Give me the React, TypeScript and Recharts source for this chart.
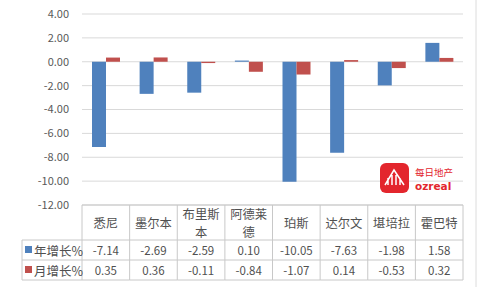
import React from 'react';
import { BarChart, Bar, XAxis, YAxis, CartesianGrid } from 'recharts';

const categories = ['悉尼', '墨尔本', '布里斯本', '阿德莱德', '珀斯', '达尔文', '堪培拉', '霍巴特'];
const categoryLines = [['悉尼'], ['墨尔本'], ['布里斯', '本'], ['阿德莱', '德'], ['珀斯'], ['达尔文'], ['堪培拉'], ['霍巴特']];
const yearly = [-7.14, -2.69, -2.59, 0.1, -10.05, -7.63, -1.98, 1.58];
const monthly = [0.35, 0.36, -0.11, -0.84, -1.07, 0.14, -0.53, 0.32];
const seriesNames = ['年增长%', '月增长%'];
const yTicks = [-12, -10, -8, -6, -4, -2, 0, 2, 4];

const data = categories.map((c, i) => ({ name: c, yearly: yearly[i], monthly: monthly[i] }));

const BLUE = '#4F81BD';
const RED = '#C0504D';
const BORDER = '#c8c8c8';
const TEXT = '#505050';
const FONT = '"Noto Sans CJK SC", "Noto Sans", sans-serif';

const W = 480;
const H = 287;
const PLOT_LEFT = 82;
const PLOT_RIGHT = 463;
const PLOT_TOP = 14;
const PLOT_BOTTOM = 205;
const BAND = (PLOT_RIGHT - PLOT_LEFT) / categories.length;
const ROW0 = PLOT_BOTTOM;
const ROW1 = 240;
const ROW2 = 260;
const ROW3 = 280;
const LEGEND_LEFT = 22;

const TableTick = (props: any) => {
  const { x, index } = props;
  const left = x - BAND / 2;
  const right = x + BAND / 2;
  const lines = categoryLines[index] || [];
  const fmt = (v: number) => v.toFixed(2);
  return (
    <g>
      <line x1={left} x2={left} y1={ROW0} y2={ROW3} stroke={BORDER} strokeWidth={1} />
      {index === categories.length - 1 && (
        <line x1={right} x2={right} y1={ROW0} y2={ROW3} stroke={BORDER} strokeWidth={1} />
      )}
      <line x1={left} x2={right} y1={ROW1} y2={ROW1} stroke={BORDER} strokeWidth={1} />
      <line x1={left} x2={right} y1={ROW2} y2={ROW2} stroke={BORDER} strokeWidth={1} />
      <line x1={left} x2={right} y1={ROW3} y2={ROW3} stroke={BORDER} strokeWidth={1} />
      {lines.length === 1 ? (
        <text x={x} y={223} textAnchor="middle" dominantBaseline="central" fontSize={12.3} fill={TEXT} fontFamily={FONT}>
          {lines[0]}
        </text>
      ) : (
        lines.map((l, i) => (
          <text key={i} x={x} y={213.8 + i * 18} textAnchor="middle" dominantBaseline="central" fontSize={12.3} fill={TEXT} fontFamily={FONT}>
            {l}
          </text>
        ))
      )}
      <text x={x} y={250} textAnchor="middle" dominantBaseline="central" fontSize={11.5} fill={TEXT} fontFamily={FONT}>
        {fmt(yearly[index])}
      </text>
      <text x={x} y={270} textAnchor="middle" dominantBaseline="central" fontSize={11.5} fill={TEXT} fontFamily={FONT}>
        {fmt(monthly[index])}
      </text>
    </g>
  );
};

export default function App() {
  return (
    <div style={{ position: 'absolute', left: 0, top: 0, width: W, height: H, background: '#fff' }}>
      <BarChart
        width={W}
        height={H}
        data={data}
        margin={{ top: PLOT_TOP, right: W - PLOT_RIGHT, left: 0, bottom: 0 }}
        barGap={0}
        barSize={14}
      >
        <CartesianGrid vertical={false} stroke="#d9d9d9" />
        <YAxis
          domain={[-12, 4]}
          ticks={yTicks}
          interval={0}
          width={PLOT_LEFT}
          axisLine={false}
          tickLine={false}
          tickSize={0}
          tickMargin={13}
          tickFormatter={(v: number) => v.toFixed(2)}
          tick={{ fontSize: 11, fill: '#595959', fontFamily: FONT }}
        />
        <XAxis
          dataKey="name"
          height={H - PLOT_BOTTOM}
          axisLine={{ stroke: BORDER }}
          tickLine={false}
          tickSize={0}
          tickMargin={0}
          interval={0}
          tick={<TableTick />}
        />
        <Bar dataKey="yearly" name={seriesNames[0]} fill={BLUE} isAnimationActive={false} />
        <Bar dataKey="monthly" name={seriesNames[1]} fill={RED} isAnimationActive={false} />
      </BarChart>
      <svg width={W} height={H} style={{ position: 'absolute', left: 0, top: 0, pointerEvents: 'none' }}>
        <line x1={LEGEND_LEFT} x2={PLOT_LEFT} y1={ROW1} y2={ROW1} stroke={BORDER} />
        <line x1={LEGEND_LEFT} x2={PLOT_LEFT} y1={ROW2} y2={ROW2} stroke={BORDER} />
        <line x1={LEGEND_LEFT} x2={PLOT_LEFT} y1={ROW3} y2={ROW3} stroke={BORDER} />
        <line x1={LEGEND_LEFT} x2={LEGEND_LEFT} y1={ROW1} y2={ROW3} stroke={BORDER} />
        <rect x={25} y={246} width={7} height={7} fill={BLUE} />
        <text x={34} y={250} dominantBaseline="central" fontSize={12.5} fill={TEXT} fontFamily={FONT}>{seriesNames[0]}</text>
        <rect x={25} y={266} width={7} height={7} fill={RED} />
        <text x={34} y={270} dominantBaseline="central" fontSize={12.5} fill={TEXT} fontFamily={FONT}>{seriesNames[1]}</text>
        <line x1={476} x2={476} y1={0} y2={H} stroke="#dcdcdc" />
        <rect x={380} y={163} width={29} height={30} rx={6} fill="#e3262d" />
        <path d="M385 185 L394 170 L404 185 M388 185 L388 178 M392 185 L392 175 M396 185 L396 175 M400 185 L400 178" stroke="#fff" strokeWidth={1.5} fill="none" />
        <text x={415} y={172} dominantBaseline="central" fontSize={9.5} fill="#e3262d" fontFamily={FONT}>每日地产</text>
        <text x={415} y={186} dominantBaseline="central" fontSize={10.5} fontWeight="bold" fill="#e3262d" fontFamily="DejaVu Sans, sans-serif">ozreal</text>
      </svg>
    </div>
  );
}
